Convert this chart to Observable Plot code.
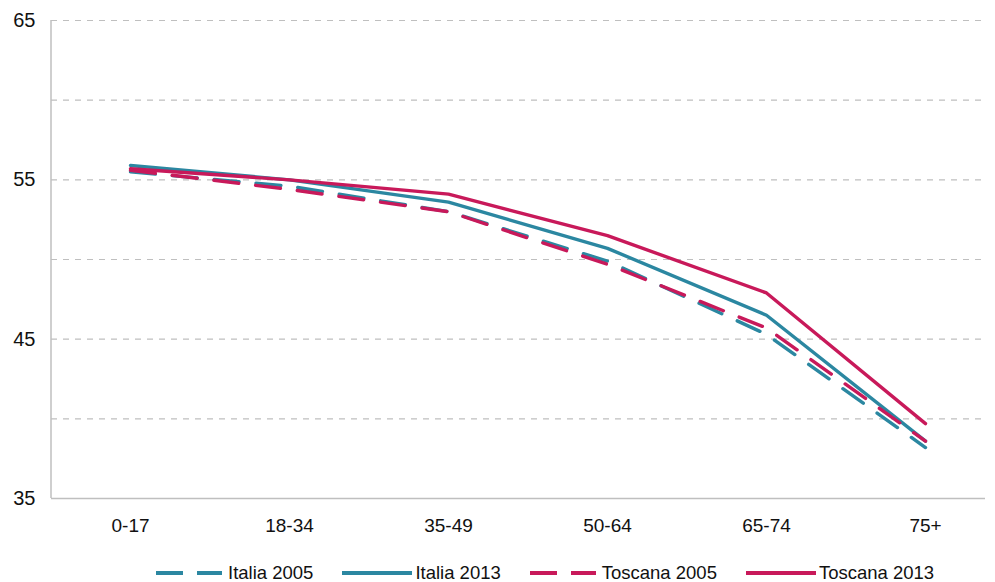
<!DOCTYPE html>
<html><head><meta charset="utf-8">
<script src="https://cdn.jsdelivr.net/npm/d3@7"></script>
<script src="https://cdn.jsdelivr.net/npm/@observablehq/plot@0.6"></script>
<style>
body{margin:0;background:#fff;font-family:"Liberation Sans",Arial,sans-serif;}
#wrap{position:relative;width:995px;height:582px;}
#legend{position:absolute;left:156px;top:560px;display:flex;align-items:center;height:26px;}
.item{display:flex;align-items:center;margin-right:29px;font-size:18.5px;color:#111;}
</style></head><body>
<div id="wrap"><div id="chart"></div><div id="legend"></div></div>
<script>
const categories = ["0-17","18-34","35-49","50-64","65-74","75+"];
const italia2005 = [55.5, 54.6, 53.0, 49.9, 45.3, 38.2];
const italia2013 = [55.9, 55.0, 53.6, 50.7, 46.5, 38.6];
const toscana2005 = [55.6, 54.4, 53.0, 49.7, 45.7, 38.6];
const toscana2013 = [55.7, 55.0, 54.1, 51.5, 47.9, 39.7];
const yTicks = [35, 45, 55, 65];
const gridValues = [40, 45, 50, 55, 60, 65];

const TEAL = "#2b87a1", RED = "#c8195a";
const seriesDefs = [
  {name:"Italia 2005", values: italia2005, color: TEAL, dash:"25,17"},
  {name:"Italia 2013", values: italia2013, color: TEAL, dash:null},
  {name:"Toscana 2005", values: toscana2005, color: RED, dash:"25,17"},
  {name:"Toscana 2013", values: toscana2013, color: RED, dash:null}
];
const toRows = s => categories.map((c,i)=>({cat:c, v:s.values[i]}));

const lineMarks = seriesDefs.map(s => Plot.line(toRows(s), {
  x:"cat", y:"v", stroke:s.color, strokeWidth:3.4,
  strokeDasharray: s.dash || undefined, strokeLinejoin:"miter"
}));

const chart = Plot.plot({
  width: 995, height: 548,
  marginTop: 20, marginBottom: 50, marginLeft: 51, marginRight: 10,
  style: {fontFamily: '"Liberation Sans", Arial, sans-serif', background: "#fff", color: "#111"},
  x: {type:"point", domain: categories, range:[130, 925], padding: 0},
  y: {domain:[35, 65]},
  marks: [
    Plot.ruleY(gridValues, {stroke:"#bfbfbf", strokeWidth:1.2, strokeDasharray:"6,6"}),
    Plot.ruleY([35], {stroke:"#bfbfbf", strokeWidth:1.5}),
    Plot.axisY({ticks: yTicks, tickSize:0, tickPadding:16, fontSize:20, label:null}),
    Plot.axisX({tickSize:0, tickPadding:20, fontSize:19, label:null}),
    ...lineMarks
  ]
});
document.getElementById("chart").appendChild(chart);

// left axis line
d3.select(chart).append("line").attr("x1",51).attr("x2",51).attr("y1",20).attr("y2",498)
  .attr("stroke","#bfbfbf").attr("stroke-width",1.5);

const legend = document.getElementById("legend");
seriesDefs.forEach(s => {
  const it = document.createElement("div"); it.className="item";
  const w = s.dash ? 66 : 70;
  const gap = s.dash ? 6 : 3;
  it.innerHTML = `<svg width="${w}" height="10" style="margin-right:${gap}px"><line x1="0" x2="${w}" y1="5" y2="5" stroke="${s.color}" stroke-width="4" ${s.dash?'stroke-dasharray="27,14"':''}/></svg><span>${s.name}</span>`;
  legend.appendChild(it);
});
</script>
</body></html>
